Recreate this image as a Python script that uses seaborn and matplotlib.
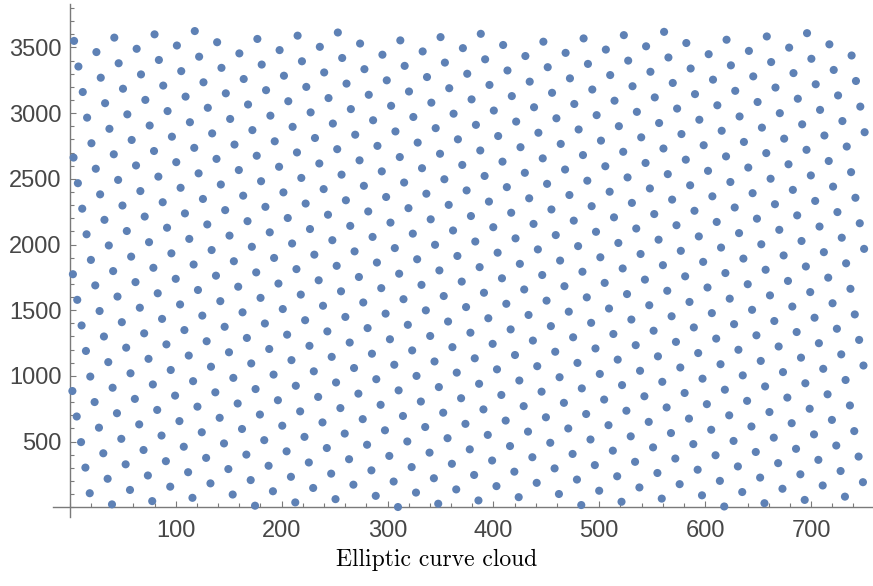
import matplotlib
matplotlib.use("Agg")
import matplotlib.pyplot as plt
import seaborn as sns
from matplotlib.ticker import MultipleLocator

# point positions, one line per slanted column of dots
x_vals = [
    18.8, 14.7, 10.6, 6.5, 2.4,
    39.8, 35.7, 31.6, 27.5, 23.4, 19.3, 15.2, 11.1, 7.0, 2.9,
    56.8, 52.7, 48.6, 44.5, 40.4, 36.3, 32.2, 28.1, 24.0, 19.9, 15.8, 11.7, 7.6, 3.5,
    77.8, 73.7, 69.6, 65.5, 61.4, 57.3, 53.2, 49.1, 45.0, 40.9, 36.8, 32.7, 28.6, 24.5, 20.4, 16.3, 12.2, 8.1, 4.0,
    94.8, 90.7, 86.6, 82.5, 78.4, 74.3, 70.2, 66.1, 62.0, 57.9, 53.8, 49.7, 45.6, 41.5, 37.4, 33.3, 29.2, 25.1,
    115.8, 111.7, 107.6, 103.5, 99.4, 95.3, 91.2, 87.1, 83.0, 78.9, 74.8, 70.7, 66.6, 62.5, 58.4, 54.3, 50.2, 46.1, 42.0,
    132.8, 128.7, 124.6, 120.5, 116.4, 112.3, 108.2, 104.1, 100.0, 95.9, 91.8, 87.7, 83.6, 79.5, 75.4, 71.3, 67.2, 63.1,
    153.8, 149.7, 145.6, 141.5, 137.4, 133.3, 129.2, 125.1, 121.0, 116.9, 112.8, 108.7, 104.6, 100.5, 96.4, 92.3, 88.2, 84.1, 80.0,
    174.9, 170.8, 166.7, 162.6, 158.5, 154.4, 150.3, 146.2, 142.1, 138.0, 133.9, 129.8, 125.7, 121.6, 117.5, 113.4, 109.3, 105.2, 101.1,
    191.8, 187.7, 183.6, 179.5, 175.4, 171.3, 167.2, 163.1, 159.0, 154.9, 150.8, 146.7, 142.6, 138.5, 134.4, 130.3, 126.2, 122.1, 118.0,
    212.9, 208.8, 204.7, 200.6, 196.5, 192.4, 188.3, 184.2, 180.1, 176.0, 171.9, 167.8, 163.7, 159.6, 155.5, 151.4, 147.3, 143.2, 139.1,
    229.8, 225.7, 221.6, 217.5, 213.4, 209.3, 205.2, 201.1, 197.0, 192.9, 188.8, 184.7, 180.6, 176.5, 172.4, 168.3, 164.2, 160.1,
    250.9, 246.8, 242.7, 238.6, 234.5, 230.4, 226.3, 222.2, 218.1, 214.0, 209.9, 205.8, 201.7, 197.6, 193.5, 189.4, 185.3, 181.2, 177.1,
    267.8, 263.7, 259.6, 255.5, 251.4, 247.3, 243.2, 239.1, 235.0, 230.9, 226.8, 222.7, 218.6, 214.5, 210.4, 206.3, 202.2, 198.1,
    288.9, 284.8, 280.7, 276.6, 272.5, 268.4, 264.3, 260.2, 256.1, 252.0, 247.9, 243.8, 239.7, 235.6, 231.5, 227.4, 223.3, 219.2, 215.1,
    309.9, 305.8, 301.7, 297.6, 293.5, 289.4, 285.3, 281.2, 277.1, 273.0, 268.9, 264.8, 260.7, 256.6, 252.5, 248.4, 244.3, 240.2, 236.1,
    326.9, 322.8, 318.7, 314.6, 310.5, 306.4, 302.3, 298.2, 294.1, 290.0, 285.9, 281.8, 277.7, 273.6, 269.5, 265.4, 261.3, 257.2, 253.1,
    347.9, 343.8, 339.7, 335.6, 331.5, 327.4, 323.3, 319.2, 315.1, 311.0, 306.9, 302.8, 298.7, 294.6, 290.5, 286.4, 282.3, 278.2, 274.1,
    364.9, 360.8, 356.7, 352.6, 348.5, 344.4, 340.3, 336.2, 332.1, 328.0, 323.9, 319.8, 315.7, 311.6, 307.5, 303.4, 299.3, 295.2,
    385.9, 381.8, 377.7, 373.6, 369.5, 365.4, 361.3, 357.2, 353.1, 349.0, 344.9, 340.8, 336.7, 332.6, 328.5, 324.4, 320.3, 316.2, 312.1,
    402.9, 398.8, 394.7, 390.6, 386.5, 382.4, 378.3, 374.2, 370.1, 366.0, 361.9, 357.8, 353.7, 349.6, 345.5, 341.4, 337.3, 333.2,
    423.9, 419.8, 415.7, 411.6, 407.5, 403.4, 399.3, 395.2, 391.1, 387.0, 382.9, 378.8, 374.7, 370.6, 366.5, 362.4, 358.3, 354.2, 350.1,
    440.9, 436.8, 432.7, 428.6, 424.5, 420.4, 416.3, 412.2, 408.1, 404.0, 399.9, 395.8, 391.7, 387.6, 383.5, 379.4, 375.3, 371.2,
    461.9, 457.8, 453.7, 449.6, 445.5, 441.4, 437.3, 433.2, 429.1, 425.0, 420.9, 416.8, 412.7, 408.6, 404.5, 400.4, 396.3, 392.2, 388.1,
    483.0, 478.9, 474.8, 470.7, 466.6, 462.5, 458.4, 454.3, 450.2, 446.1, 442.0, 437.9, 433.8, 429.7, 425.6, 421.5, 417.4, 413.3, 409.2,
    499.9, 495.8, 491.7, 487.6, 483.5, 479.4, 475.3, 471.2, 467.1, 463.0, 458.9, 454.8, 450.7, 446.6, 442.5, 438.4, 434.3, 430.2,
    521.0, 516.9, 512.8, 508.7, 504.6, 500.5, 496.4, 492.3, 488.2, 484.1, 480.0, 475.9, 471.8, 467.7, 463.6, 459.5, 455.4, 451.3, 447.2,
    537.9, 533.8, 529.7, 525.6, 521.5, 517.4, 513.3, 509.2, 505.1, 501.0, 496.9, 492.8, 488.7, 484.6, 480.5, 476.4, 472.3, 468.2,
    559.0, 554.9, 550.8, 546.7, 542.6, 538.5, 534.4, 530.3, 526.2, 522.1, 518.0, 513.9, 509.8, 505.7, 501.6, 497.5, 493.4, 489.3, 485.2,
    575.9, 571.8, 567.7, 563.6, 559.5, 555.4, 551.3, 547.2, 543.1, 539.0, 534.9, 530.8, 526.7, 522.6, 518.5, 514.4, 510.3, 506.2,
    597.0, 592.9, 588.8, 584.7, 580.6, 576.5, 572.4, 568.3, 564.2, 560.1, 556.0, 551.9, 547.8, 543.7, 539.6, 535.5, 531.4, 527.3, 523.2,
    618.0, 613.9, 609.8, 605.7, 601.6, 597.5, 593.4, 589.3, 585.2, 581.1, 577.0, 572.9, 568.8, 564.7, 560.6, 556.5, 552.4, 548.3, 544.2,
    635.0, 630.9, 626.8, 622.7, 618.6, 614.5, 610.4, 606.3, 602.2, 598.1, 594.0, 589.9, 585.8, 581.7, 577.6, 573.5, 569.4, 565.3, 561.2,
    656.0, 651.9, 647.8, 643.7, 639.6, 635.5, 631.4, 627.3, 623.2, 619.1, 615.0, 610.9, 606.8, 602.7, 598.6, 594.5, 590.4, 586.3, 582.2,
    673.0, 668.9, 664.8, 660.7, 656.6, 652.5, 648.4, 644.3, 640.2, 636.1, 632.0, 627.9, 623.8, 619.7, 615.6, 611.5, 607.4, 603.3,
    694.0, 689.9, 685.8, 681.7, 677.6, 673.5, 669.4, 665.3, 661.2, 657.1, 653.0, 648.9, 644.8, 640.7, 636.6, 632.5, 628.4, 624.3, 620.2,
    711.0, 706.9, 702.8, 698.7, 694.6, 690.5, 686.4, 682.3, 678.2, 674.1, 670.0, 665.9, 661.8, 657.7, 653.6, 649.5, 645.4, 641.3,
    732.0, 727.9, 723.8, 719.7, 715.6, 711.5, 707.4, 703.3, 699.2, 695.1, 691.0, 686.9, 682.8, 678.7, 674.6, 670.5, 666.4, 662.3, 658.2,
    749.0, 744.9, 740.8, 736.7, 732.6, 728.5, 724.4, 720.3, 716.2, 712.1, 708.0, 703.9, 699.8, 695.7, 691.6, 687.5, 683.4, 679.3,
    749.5, 745.4, 741.3, 737.2, 733.1, 729.0, 724.9, 720.8, 716.7, 712.6, 708.5, 704.4, 700.3, 696.2,
    750.1, 746.0, 741.9, 737.8, 733.7, 729.6, 725.5, 721.4, 717.3,
    750.6, 746.5, 742.4, 738.3,
]
y_vals = [
    107, 302, 496, 691, 885,
    22, 217, 411, 606, 801, 995, 1190, 1384, 1579, 1774,
    132, 327, 521, 716, 910, 1105, 1300, 1494, 1689, 1883, 2078, 2273, 2467, 2662,
    47, 242, 436, 631, 825, 1020, 1215, 1409, 1604, 1798, 1993, 2188, 2382, 2577, 2771, 2966, 3161, 3355, 3550,
    157, 351, 546, 741, 935, 1130, 1324, 1519, 1714, 1908, 2103, 2297, 2492, 2687, 2881, 3076, 3270, 3465,
    72, 267, 461, 656, 850, 1045, 1240, 1434, 1629, 1823, 2018, 2213, 2407, 2602, 2796, 2991, 3186, 3380, 3575,
    182, 376, 571, 766, 960, 1155, 1349, 1544, 1739, 1933, 2128, 2322, 2517, 2712, 2906, 3101, 3295, 3490,
    97, 291, 486, 681, 875, 1070, 1264, 1459, 1654, 1848, 2043, 2237, 2432, 2627, 2821, 3016, 3210, 3405, 3600,
    12, 207, 401, 596, 790, 985, 1180, 1374, 1569, 1763, 1958, 2153, 2347, 2542, 2736, 2931, 3126, 3320, 3515,
    122, 316, 511, 706, 900, 1095, 1289, 1484, 1679, 1873, 2068, 2262, 2457, 2652, 2846, 3041, 3235, 3430, 3625,
    37, 232, 426, 621, 815, 1010, 1205, 1399, 1594, 1788, 1983, 2178, 2372, 2567, 2761, 2956, 3151, 3345, 3540,
    147, 341, 536, 730, 925, 1120, 1314, 1509, 1703, 1898, 2093, 2287, 2482, 2676, 2871, 3066, 3260, 3455,
    62, 256, 451, 646, 840, 1035, 1229, 1424, 1619, 1813, 2008, 2202, 2397, 2592, 2786, 2981, 3175, 3370, 3565,
    172, 366, 561, 755, 950, 1145, 1339, 1534, 1728, 1923, 2118, 2312, 2507, 2701, 2896, 3091, 3285, 3480,
    87, 281, 476, 671, 865, 1060, 1254, 1449, 1644, 1838, 2033, 2227, 2422, 2617, 2811, 3006, 3200, 3395, 3590,
    2, 196, 391, 586, 780, 975, 1169, 1364, 1559, 1753, 1948, 2142, 2337, 2532, 2726, 2921, 3115, 3310, 3505,
    112, 306, 501, 695, 890, 1085, 1279, 1474, 1668, 1863, 2058, 2252, 2447, 2641, 2836, 3031, 3225, 3420, 3614,
    27, 221, 416, 611, 805, 1000, 1194, 1389, 1584, 1778, 1973, 2167, 2362, 2557, 2751, 2946, 3140, 3335, 3530,
    136, 331, 526, 720, 915, 1110, 1304, 1499, 1693, 1888, 2083, 2277, 2472, 2666, 2861, 3056, 3250, 3445,
    52, 246, 441, 635, 830, 1025, 1219, 1414, 1608, 1803, 1998, 2192, 2387, 2581, 2776, 2971, 3165, 3360, 3554,
    161, 356, 551, 745, 940, 1134, 1329, 1524, 1718, 1913, 2107, 2302, 2497, 2691, 2886, 3080, 3275, 3470,
    77, 271, 466, 660, 855, 1050, 1244, 1439, 1633, 1828, 2023, 2217, 2412, 2606, 2801, 2996, 3190, 3385, 3579,
    186, 381, 576, 770, 965, 1159, 1354, 1549, 1743, 1938, 2132, 2327, 2522, 2716, 2911, 3105, 3300, 3495,
    101, 296, 491, 685, 880, 1074, 1269, 1464, 1658, 1853, 2047, 2242, 2437, 2631, 2826, 3020, 3215, 3410, 3604,
    17, 211, 406, 600, 795, 990, 1184, 1379, 1573, 1768, 1963, 2157, 2352, 2546, 2741, 2936, 3130, 3325, 3519,
    126, 321, 516, 710, 905, 1099, 1294, 1489, 1683, 1878, 2072, 2267, 2462, 2656, 2851, 3045, 3240, 3435,
    42, 236, 431, 625, 820, 1015, 1209, 1404, 1598, 1793, 1988, 2182, 2377, 2571, 2766, 2961, 3155, 3350, 3544,
    151, 346, 540, 735, 930, 1124, 1319, 1513, 1708, 1903, 2097, 2292, 2486, 2681, 2876, 3070, 3265, 3459,
    66, 261, 456, 650, 845, 1039, 1234, 1429, 1623, 1818, 2012, 2207, 2402, 2596, 2791, 2985, 3180, 3375, 3569,
    176, 371, 565, 760, 955, 1149, 1344, 1538, 1733, 1928, 2122, 2317, 2511, 2706, 2901, 3095, 3290, 3484,
    91, 286, 481, 675, 870, 1064, 1259, 1454, 1648, 1843, 2037, 2232, 2427, 2621, 2816, 3010, 3205, 3400, 3594,
    6, 201, 396, 590, 785, 979, 1174, 1369, 1563, 1758, 1952, 2147, 2342, 2536, 2731, 2925, 3120, 3315, 3509,
    116, 311, 505, 700, 895, 1089, 1284, 1478, 1673, 1868, 2062, 2257, 2451, 2646, 2841, 3035, 3230, 3424, 3619,
    31, 226, 421, 615, 810, 1004, 1199, 1394, 1588, 1783, 1977, 2172, 2367, 2561, 2756, 2950, 3145, 3340, 3534,
    141, 336, 530, 725, 920, 1114, 1309, 1503, 1698, 1893, 2087, 2282, 2476, 2671, 2866, 3060, 3255, 3449,
    56, 251, 445, 640, 835, 1029, 1224, 1418, 1613, 1808, 2002, 2197, 2391, 2586, 2781, 2975, 3170, 3364, 3559,
    166, 361, 555, 750, 944, 1139, 1334, 1528, 1723, 1917, 2112, 2307, 2501, 2696, 2890, 3085, 3280, 3474,
    81, 276, 470, 665, 860, 1054, 1249, 1443, 1638, 1833, 2027, 2222, 2416, 2611, 2806, 3000, 3195, 3389, 3584,
    191, 386, 580, 775, 969, 1164, 1359, 1553, 1748, 1942, 2137, 2332, 2526, 2721, 2915, 3110, 3305, 3499,
    1079, 1274, 1468, 1663, 1857, 2052, 2247, 2441, 2636, 2830, 3025, 3220, 3414, 3609,
    1967, 2162, 2356, 2551, 2746, 2940, 3135, 3329, 3524,
    2855, 3050, 3245, 3439,
]
x_ticks = [100, 200, 300, 400, 500, 600, 700]
y_ticks = [500, 1000, 1500, 2000, 2500, 3000, 3500]
caption = "Elliptic curve cloud"

sns.set_style("white")
plt.rcParams["font.family"] = ["Liberation Sans", "DejaVu Sans"]

dot_color = (0.368417, 0.506779, 0.709798)
axis_gray = "#7a7a7a"

fig = plt.figure(figsize=(8.73, 5.86), dpi=100)
ax = fig.add_axes([53 / 873, 69 / 586, 820 / 873, 513 / 586])

sns.scatterplot(x=x_vals, y=y_vals, ax=ax, color=dot_color, s=34,
                linewidth=0, edgecolor="none", legend=False, zorder=3)

ax.set_xlim(-15.9, 758.5)
ax.set_ylim(-74, 3831)

for side in ["top", "right"]:
    ax.spines[side].set_visible(False)
ax.spines["left"].set_position(("data", 0))
ax.spines["bottom"].set_position(("data", 0))
for side in ["left", "bottom"]:
    ax.spines[side].set_color(axis_gray)
    ax.spines[side].set_linewidth(1.0)

ax.set_xticks(x_ticks)
ax.set_yticks(y_ticks)
ax.xaxis.set_minor_locator(MultipleLocator(20))
ax.yaxis.set_minor_locator(MultipleLocator(100))
# seaborn's white style switches the ticks off, Mathematica draws them inward
ax.tick_params(which="both", bottom=True, left=True, top=False, right=False)
ax.tick_params(which="major", direction="in", length=4.5, width=0.8,
               color=axis_gray, labelsize=17, labelcolor="#474747")
ax.tick_params(which="minor", direction="in", length=2.6, width=0.8,
               color=axis_gray)
ax.tick_params(axis="x", which="major", pad=9)
ax.tick_params(axis="y", which="major", pad=6)
ax.set_xlabel("")
ax.set_ylabel("")

fig.text(0.5, 1 - 560 / 586, caption, ha="center", va="center",
         family=["cmr10", "DejaVu Serif"], fontsize=17, color="black")

fig.savefig("out.png", dpi=100)
